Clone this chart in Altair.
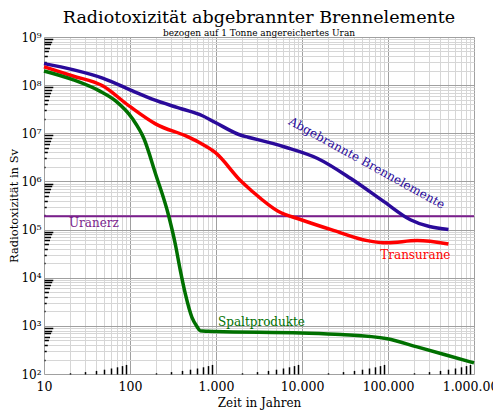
import altair as alt
import pandas as pd

# --- data -------------------------------------------------------------------
bren_t = [10, 21.6, 48, 107, 181, 403, 685, 968, 1990, 2370, 6290, 15200, 37000, 89700, 182000, 505000]
bren_v = [2.8e8, 2.1e8, 1.4e8, 7.6e7, 5.1e7, 3.2e7, 2.34e7, 1.7e7, 9.0e6, 8.3e6, 5.2e6, 3.0e6, 1.15e6, 3.8e5, 1.6e5, 1.0e5]

trans_t = [10, 21.6, 48, 97.6, 198, 481, 685, 977, 1990, 2590, 5270, 9770, 23700, 57500, 98000, 218000, 505000]
trans_v = [2.4e8, 1.55e8, 9.7e7, 3.7e7, 1.57e7, 8.3e6, 6.0e6, 4.0e6, 9.8e5, 6.4e5, 2.4e5, 1.6e5, 9.5e4, 5.9e4, 5.3e4, 5.9e4, 5.0e4]

spalt_t = [10, 21.6, 44, 68, 107, 145.5, 198, 283, 337, 385, 440, 525, 600, 655, 800, 977, 9770, 28400, 98000, 218000, 484000, 1000000]
spalt_v = [1.97e8, 1.3e8, 7.6e7, 4.7e7, 2.0e7, 7.7e6, 1.45e6, 1.87e5, 4.9e4, 1.4e4, 4.6e3, 1.5e3, 9.7e2, 7.9e2, 7.7e2, 7.6e2, 7.1e2, 6.6e2, 5.4e2, 3.65e2, 2.45e2, 1.7e2]

uranerz_v = 1.88e5

series_names = ["Abgebrannte Brennelemente", "Transurane", "Spaltprodukte"]
series_colors = ["#2a0a9a", "#ff0000", "#007000"]
uranerz_color = "#7a1e8c"

# annotation labels: text, year, value, colour, angle
label_text = ["Abgebrannte Brennelemente", "Transurane", "Spaltprodukte", "Uranerz"]
label_t = [56600, 208000, 3380, 38]
label_v = [2.43e6, 2.95e4, 1230, 1.35e5]
label_color = ["#2a0a9a", "#ff0000", "#007000", uranerz_color]
label_angle = [29, 0, 0, 0]

# axis tick values (log paper: 1..9 x 10^n)
x_ticks = [d * 10 ** e for e in range(1, 6) for d in range(1, 10)] + [10 ** 6]
y_ticks = [d * 10 ** e for e in range(2, 9) for d in range(1, 10)] + [10 ** 9]

rows = []
for name, ts, vs in zip(series_names, [bren_t, trans_t, spalt_t], [bren_v, trans_v, spalt_v]):
    for t, v in zip(ts, vs):
        rows.append({"serie": name, "t": t, "v": v})
df = pd.DataFrame(rows)

FONT = "DejaVu Serif"
DIGIT = "round(datum.value / pow(10, floor(log(datum.value) / LN10 + 1e-6)))"
MAJOR = f"({DIGIT} == 1)"
EXP = "round(log(datum.value) / LN10)"

xscale = alt.Scale(type="log", domain=[10, 1e6], nice=False)
yscale = alt.Scale(type="log", domain=[100, 1e9], nice=False)

x_axis = alt.Axis(
    values=x_ticks,
    title="Zeit in Jahren",
    labelExpr=f"{MAJOR} ? replace(replace(format(datum.value, ','), ',', '.'), ',', '.') : ''",
    labelOverlap=False,
    labelFlush=False,
    labelFont=FONT,
    labelFontSize=12.5,
    labelColor="black",
    labelPadding=6,
    grid=True,
    gridColor={"expr": f"{MAJOR} ? '#a0a0a0' : '#d6d6d6'"},
    gridWidth=1,
    domain=False,
    ticks=True,
    tickColor="black",
    tickWidth=1.5,
    tickSize={"expr": f"{MAJOR} ? 0 : -({DIGIT} - 1) * 1.2"},
    titleFont=FONT,
    titleFontSize=12,
    titleFontWeight="normal",
    titleColor="black",
    titlePadding=5,
)

y_axis = alt.Axis(
    values=y_ticks,
    title="Radiotoxizität in Sv",
    labelExpr=f"{MAJOR} ? '10' + substring('⁰¹²³⁴⁵⁶⁷⁸⁹', {EXP}, {EXP} + 1) : ''",
    labelOverlap=False,
    labelFlush=False,
    labelFont=FONT,
    labelFontSize=12,
    labelColor="black",
    labelPadding=3,
    grid=True,
    gridColor={"expr": f"{MAJOR} ? '#a0a0a0' : '#d6d6d6'"},
    gridWidth=1,
    domain=False,
    ticks=True,
    tickColor="black",
    tickWidth=1.5,
    tickSize={"expr": f"{MAJOR} ? 0 : -({DIGIT} - 1) * 1.1"},
    titleFont=FONT,
    titleFontSize=11.5,
    titleFontWeight="normal",
    titleColor="black",
    titlePadding=1,
)

lines = alt.Chart(df).mark_line(strokeWidth=3.5, interpolate="monotone").encode(
    x=alt.X("t:Q", scale=xscale, axis=x_axis),
    y=alt.Y("v:Q", scale=yscale, axis=y_axis),
    color=alt.Color("serie:N", scale=alt.Scale(domain=series_names, range=series_colors), legend=None),
    detail="serie:N",
)

uranerz = alt.Chart(pd.DataFrame({"v": [uranerz_v]})).mark_rule(
    color=uranerz_color, strokeWidth=2
).encode(y=alt.Y("v:Q", scale=yscale))

texts = []
for txt, t, v, c, a in zip(label_text, label_t, label_v, label_color, label_angle):
    texts.append(
        alt.Chart(pd.DataFrame({"t": [t], "v": [v], "txt": [txt]})).mark_text(
            font=FONT, fontSize=12, color=c, angle=a, align="center", baseline="middle"
        ).encode(
            x=alt.X("t:Q", scale=xscale),
            y=alt.Y("v:Q", scale=yscale),
            text="txt:N",
        )
    )

chart = alt.layer(uranerz, lines, *texts).properties(
    width=430,
    height=337,
    autosize=alt.AutoSizeParams(type="none"),
    padding={"left": 36, "top": 29, "right": 19, "bottom": 36},
    title=alt.TitleParams(
        "Radiotoxizität abgebrannter Brennelemente",
        subtitle="bezogen auf 1 Tonne angereichertes Uran",
        font=FONT,
        fontSize=17.5,
        fontWeight="normal",
        color="black",
        subtitleFont=FONT,
        subtitleFontSize=9,
        subtitleColor="black",
        subtitlePadding=3,
        anchor="middle",
        offset=-7,
    ),
).configure_view(stroke="black", strokeWidth=3).configure(font=FONT)

chart.save("out.html", embed_options={"renderer": "svg", "actions": False})
